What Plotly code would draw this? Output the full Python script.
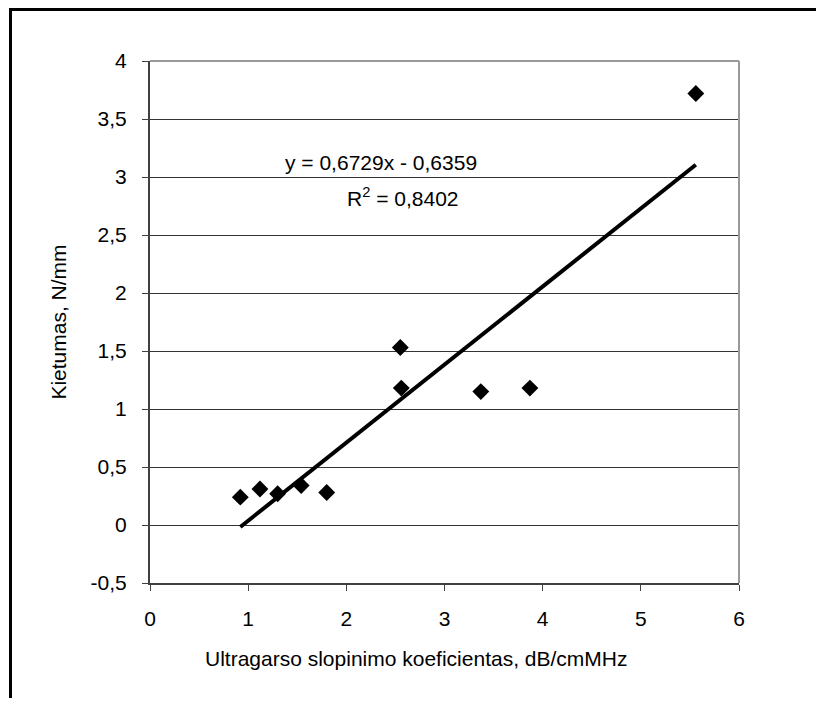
import plotly.graph_objects as go

# Data
x_vals = [0.92, 1.12, 1.30, 1.54, 1.80, 2.55, 2.56, 3.37, 3.87, 5.56]
y_vals = [0.24, 0.31, 0.27, 0.34, 0.28, 1.53, 1.18, 1.15, 1.18, 3.72]

slope = 0.6729
intercept = -0.6359
eq_text = "y = 0,6729x - 0,6359"
r2_text = "R<sup>2</sup> = 0,8402"

x_ticks = [0, 1, 2, 3, 4, 5, 6]
y_ticks = [-0.5, 0, 0.5, 1, 1.5, 2, 2.5, 3, 3.5, 4]
y_tick_labels = ["-0,5", "0", "0,5", "1", "1,5", "2", "2,5", "3", "3,5", "4"]

x_title = "Ultragarso slopinimo koeficientas, dB/cmMHz"
y_title = "Kietumas, N/mm"

FONT = "Liberation Sans, Arial, sans-serif"
FS = 21

fig = go.Figure()

# Trendline over data range
tx = [min(x_vals), max(x_vals)]
ty = [slope * v + intercept for v in tx]
fig.add_trace(go.Scatter(x=tx, y=ty, mode="lines",
                         line=dict(color="black", width=4),
                         hoverinfo="skip", showlegend=False))

fig.add_trace(go.Scatter(x=x_vals, y=y_vals, mode="markers",
                         marker=dict(symbol="diamond", size=13, color="black"),
                         showlegend=False))

OFF = 8  # browser body margin
W, H = 824 - 2 * OFF, 706 - 2 * OFF
L = 150 - OFF
T = 61 - OFF
R = W - (739 - OFF)
B = H - (583 - OFF)
pw = W - L - R
ph = H - T - B

def px(xp):  # page x -> paper
    return (xp - OFF - L) / pw

def py(yp):  # page y -> paper
    return (H - B - (yp - OFF)) / ph

fig.update_layout(
    width=W, height=H,
    margin=dict(l=L, r=R, t=T, b=B, autoexpand=False),
    paper_bgcolor="white", plot_bgcolor="white",
    font=dict(family=FONT, size=FS, color="black"),
    showlegend=False,
    xaxis=dict(range=[0, 6], tickvals=x_ticks, ticktext=[str(v) for v in x_ticks],
               showgrid=False, zeroline=False,
               showline=True, linecolor="#404040", linewidth=2,
               ticks="outside", ticklen=6, tickcolor="#404040", tickwidth=1,
               ticklabelstandoff=10,
               tickfont=dict(size=FS)),
    yaxis=dict(range=[-0.5, 4], tickvals=y_ticks, ticktext=y_tick_labels,
               showgrid=True, gridcolor="#333333", gridwidth=1, zeroline=False,
               showline=True, linecolor="#404040", linewidth=2,
               ticks="outside", ticklen=6, tickcolor="#404040", tickwidth=1,
               ticklabelstandoff=11,
               tickfont=dict(size=FS),
               title=dict(text=y_title, font=dict(size=FS), standoff=18)),
    shapes=[
        # plot area top and right border (grey)
        dict(type="line", xref="paper", yref="paper", x0=0, x1=1, y0=1, y1=1,
             line=dict(color="#999999", width=2)),
        dict(type="line", xref="paper", yref="paper", x0=1, x1=1, y0=0, y1=1,
             line=dict(color="#999999", width=2)),
        # outer frame: top and left
        dict(type="line", xref="paper", yref="paper", x0=px(10), x1=px(OFF + W),
             y0=py(9.5), y1=py(9.5), line=dict(color="black", width=3)),
        dict(type="line", xref="paper", yref="paper", x0=px(10.5), x1=px(10.5),
             y0=py(8), y1=py(OFF + H), line=dict(color="black", width=3)),
    ],
    annotations=[
        dict(text=eq_text, x=px(381), y=py(162), xref="paper", yref="paper",
             showarrow=False, font=dict(size=FS), xanchor="center", yanchor="middle"),
        dict(text=r2_text, x=px(403), y=py(197), xref="paper", yref="paper",
             showarrow=False, font=dict(size=FS), xanchor="center", yanchor="middle"),
        dict(text=x_title, x=px(416), y=py(658), xref="paper", yref="paper",
             showarrow=False, font=dict(size=FS), xanchor="center", yanchor="middle"),
    ],
)

fig.write_html("out.html")
